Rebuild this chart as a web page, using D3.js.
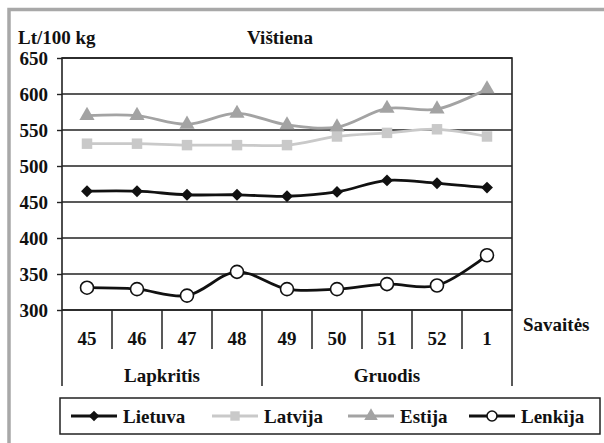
<!DOCTYPE html>
<html>
<head>
<meta charset="utf-8">
<script src="https://cdn.jsdelivr.net/npm/d3@7"></script>
<style>
  body { margin: 0; background: #fff; }
  text { font-family: "Liberation Serif", "Times New Roman", serif; font-weight: bold; fill: #111; }
</style>
</head>
<body>
<div id="chart"></div>
<script>
// data
var weeks = ["45", "46", "47", "48", "49", "50", "51", "52", "1"];
var months = ["Lapkritis", "Gruodis"];
var monthSpan = [4, 5]; // weeks in each month
var yTicks = [300, 350, 400, 450, 500, 550, 600, 650];

var lietuva = [465, 465, 460, 460, 458, 464, 480, 476, 470];
var latvija = [531, 531, 529, 529, 529, 541, 546, 551, 541];
var estija  = [570, 570, 558, 573, 557, 554, 580, 579, 607];
var lenkija = [331, 329, 320, 353, 329, 329, 336, 334, 376];

var seriesNames = ["Lietuva", "Latvija", "Estija", "Lenkija"];
var seriesValues = [lietuva, latvija, estija, lenkija];
var seriesColors = ["#111", "#c9c9c9", "#a3a3a3", "#111"];
var seriesMarkers = ["diamond", "square", "triangle", "circle"];

var W = 604, H = 443;
var pLeft = 62, pRight = 512, pTop = 58, pBottom = 310;

var svg = d3.select("#chart").append("svg")
    .attr("width", W)
    .attr("height", H);

// grey frame
svg.append("path")
    .attr("d", "M9," + H + "V9.5H" + W)
    .attr("fill", "none")
    .attr("stroke", "#a8a8a8")
    .attr("stroke-width", 3.5);

var x = d3.scaleBand().domain(weeks).range([pLeft, pRight]);
var y = d3.scaleLinear().domain([300, 650]).range([pBottom, pTop]);

// horizontal grid lines
svg.append("g").selectAll("line")
    .data(yTicks)
    .enter().append("line")
    .attr("x1", pLeft).attr("x2", pRight)
    .attr("y1", d => y(d)).attr("y2", d => y(d))
    .attr("stroke", "#222")
    .attr("stroke-width", 1.6);

// plot frame
svg.append("rect")
    .attr("x", pLeft).attr("y", pTop)
    .attr("width", pRight - pLeft).attr("height", pBottom - pTop)
    .attr("fill", "none")
    .attr("stroke", "#222")
    .attr("stroke-width", 1.6);

// y axis
var yAxis = svg.append("g")
    .attr("transform", "translate(" + pLeft + ",0)")
    .call(d3.axisLeft(y).tickValues(yTicks).tickSize(5).tickPadding(9));
yAxis.select(".domain").remove();
yAxis.selectAll(".tick line").attr("stroke", "#222").attr("stroke-width", 1.4);
yAxis.selectAll(".tick text")
    .style("font-family", "'Liberation Serif', serif")
    .style("font-weight", "bold")
    .style("font-size", "19px")
    .attr("fill", "#111");

svg.append("text")
    .attr("x", 18).attr("y", 44)
    .style("font-size", "19px")
    .text("Lt/100 kg");

svg.append("text")
    .attr("x", 280).attr("y", 44)
    .attr("text-anchor", "middle")
    .style("font-size", "19px")
    .text("Vištiena");

// week separators and labels
var edges = weeks.map(d => x(d)).concat([pRight]);
var monthEdges = [0];
monthSpan.forEach(function(n, i) { monthEdges.push(monthEdges[i] + n); });

svg.append("g").selectAll("line")
    .data(edges)
    .enter().append("line")
    .attr("x1", d => d).attr("x2", d => d)
    .attr("y1", pBottom)
    .attr("y2", function(d, i) { return monthEdges.indexOf(i) >= 0 ? 386 : 349; })
    .attr("stroke", "#222")
    .attr("stroke-width", 1.5);

svg.append("g").selectAll("text")
    .data(weeks)
    .enter().append("text")
    .attr("x", d => x(d) + x.bandwidth() / 2)
    .attr("y", 345)
    .attr("text-anchor", "middle")
    .style("font-size", "19px")
    .text(d => d);

svg.append("g").selectAll("text")
    .data(months)
    .enter().append("text")
    .attr("x", function(d, i) {
      var a = edges[monthEdges[i]], b = edges[monthEdges[i + 1]];
      return (a + b) / 2;
    })
    .attr("y", 382)
    .attr("text-anchor", "middle")
    .style("font-size", "19px")
    .text(d => d);

svg.append("text")
    .attr("x", 523).attr("y", 331)
    .style("font-size", "19px")
    .text("Savaitės");

// markers
function drawMarker(g, type, color, size, r) {
  if (type == "diamond") {
    g.append("path")
      .attr("d", d3.symbol().type(d3.symbolDiamond2).size(size * 9))
      .attr("fill", color);
  } else if (type == "square") {
    g.append("path")
      .attr("d", d3.symbol().type(d3.symbolSquare).size(size * 11))
      .attr("fill", color);
  } else if (type == "triangle") {
    g.append("path")
      .attr("d", d3.symbol().type(d3.symbolTriangle).size(size * 10))
      .attr("fill", color);
  } else {
    g.append("circle")
      .attr("r", r)
      .attr("fill", "#fff")
      .attr("stroke", color)
      .attr("stroke-width", 1.6);
  }
}

var line = d3.line()
    .x((d, i) => x(weeks[i]) + x.bandwidth() / 2)
    .y(d => y(d))
    .curve(d3.curveCatmullRom);

// draw series (Latvija first so darker lines sit on top)
[1, 2, 0, 3].forEach(function(k) {
  var vals = seriesValues[k];
  svg.append("path")
      .datum(vals)
      .attr("fill", "none")
      .attr("stroke", seriesColors[k])
      .attr("stroke-width", 2.8)
      .attr("d", line);

  svg.append("g").selectAll("g")
      .data(vals)
      .enter().append("g")
      .attr("transform", (d, i) => "translate(" + (x(weeks[i]) + x.bandwidth() / 2) + "," + y(d) + ")")
      .each(function() { drawMarker(d3.select(this), seriesMarkers[k], seriesColors[k], 10, 6.5); });
});

// legend
svg.append("rect")
    .attr("x", 60).attr("y", 398)
    .attr("width", 540).attr("height", 36)
    .attr("fill", "#fff")
    .attr("stroke", "#222")
    .attr("stroke-width", 1.5);

var legX = [71, 212, 348, 469];
var legend = svg.selectAll(".legend")
    .data(seriesNames)
    .enter().append("g")
    .attr("class", "legend")
    .attr("transform", (d, i) => "translate(" + legX[i] + ",416)");

legend.append("line")
    .attr("x1", 0).attr("x2", 46)
    .attr("stroke", (d, i) => seriesColors[i])
    .attr("stroke-width", 2.8);

legend.each(function(d, i) {
  var g = d3.select(this).append("g").attr("transform", "translate(23,0)");
  drawMarker(g, seriesMarkers[i], seriesColors[i], 8, 5);
});

legend.append("text")
    .attr("x", 52)
    .attr("y", 7)
    .style("font-size", "19px")
    .text(d => d);
</script>
</body>
</html>
